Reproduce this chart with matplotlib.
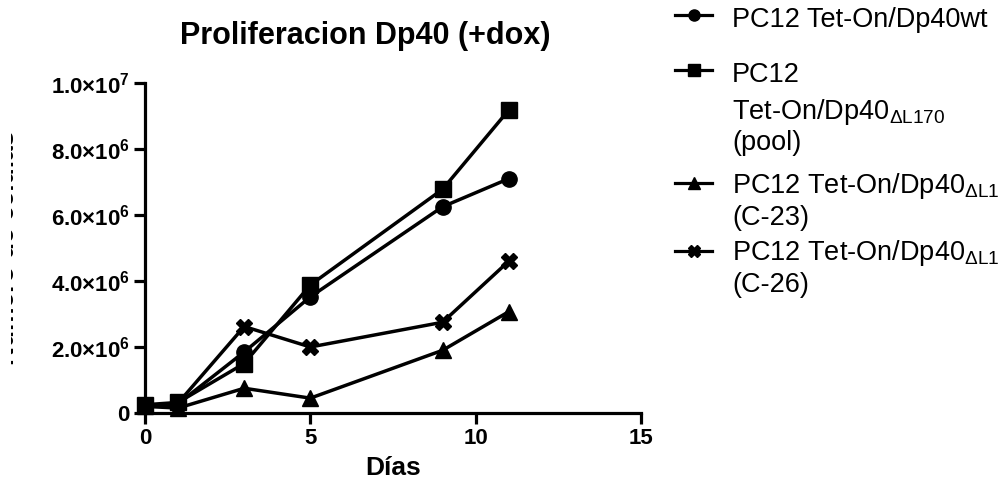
import matplotlib
matplotlib.use("Agg")
import matplotlib.pyplot as plt
from matplotlib.lines import Line2D
from matplotlib.transforms import Bbox

plt.rcParams['font.family'] = ['Liberation Sans', 'DejaVu Sans']
plt.rcParams['mathtext.fontset'] = 'custom'
plt.rcParams['mathtext.rm'] = 'Liberation Sans'
plt.rcParams['mathtext.bf'] = 'Liberation Sans:bold'
plt.rcParams['mathtext.it'] = 'Liberation Sans:italic'

# datos
dias = [0, 1, 3, 5, 9, 11]
wt = [0.22e6, 0.28e6, 1.85e6, 3.52e6, 6.25e6, 7.1e6]
pool = [0.25e6, 0.32e6, 1.5e6, 3.88e6, 6.78e6, 9.18e6]
c23 = [0.2e6, 0.15e6, 0.75e6, 0.45e6, 1.9e6, 3.07e6]
c26 = [0.2e6, 0.3e6, 2.62e6, 2.0e6, 2.75e6, 4.6e6]

series = [wt, pool, c23, c26]
marcadores = ['o', 's', '^', 'X']
# cada entrada de la leyenda, linea por linea
etiquetas = [
    ["PC12 Tet-On/Dp40wt"],
    ["PC12", "Tet-On/Dp40$_{\\mathrm{\u0394L170}}$", "(pool)"],
    ["PC12 Tet-On/Dp40$_{\\mathrm{\u0394L170}}$", "(C-23)"],
    ["PC12 Tet-On/Dp40$_{\\mathrm{\u0394L170}}$", "(C-26)"],
]
yticks = [0, 2e6, 4e6, 6e6, 8e6, 1e7]
yticklabels = ["0", r"$\mathbf{2.0{\times}10^{6}}$", r"$\mathbf{4.0{\times}10^{6}}$",
               r"$\mathbf{6.0{\times}10^{6}}$", r"$\mathbf{8.0{\times}10^{6}}$",
               r"$\mathbf{1.0{\times}10^{7}}$"]
xticks = [0, 5, 10, 15]

fig = plt.figure(figsize=(10, 4.94), dpi=100)
ax = fig.add_axes([0.145, (494 - 413) / 494, 0.496, 330 / 494])

for ys, m in zip(series, marcadores):
    ax.plot(dias, ys, color='black', lw=2.5, marker=m, ms=11, clip_on=False,
            zorder=3)

ax.set_xlim(0, 15)
ax.set_ylim(0, 1e7)
ax.set_xticks(xticks)
ax.set_yticks(yticks)
ax.set_yticklabels(yticklabels)
for s in ['top', 'right']:
    ax.spines[s].set_visible(False)
for s in ['left', 'bottom']:
    ax.spines[s].set_linewidth(2.3)
ax.tick_params(width=2.3, length=8, direction='out', labelsize=16, pad=3)
for lab in ax.get_xticklabels() + ax.get_yticklabels():
    lab.set_fontweight('bold')
ax.set_xlabel("Días", fontsize=19, fontweight='bold', labelpad=5)

fig.text(0.365, 1 - 44 / 494, "Proliferacion Dp40 (+dox)", fontsize=22,
         fontweight='bold', ha='center', va='baseline')

# etiqueta del eje y, casi toda fuera del recorte
ylab = fig.text(19 / 1000, 1 - 248 / 494, "Número de células", rotation=90,
                fontsize=19, fontweight='bold', ha='right', va='center')
ylab.set_clip_box(Bbox.from_extents(11, 0, 16, 494))
ylab.set_clip_on(True)

# leyenda a mano
ys_ley = [15, 70, 183, 251]
bases = [[27], [82, 119, 150], [193, 225], [260, 292]]
for y, bs, m, lineas in zip(ys_ley, bases, marcadores, etiquetas):
    yf = 1 - y / 494
    fig.add_artist(Line2D([675 / 1000, 712 / 1000], [yf, yf], color='black',
                          lw=2.3, transform=fig.transFigure))
    fig.add_artist(Line2D([693.5 / 1000], [yf], color='black', marker=m, ms=8,
                          transform=fig.transFigure))
    for b, txt in zip(bs, lineas):
        fig.text(732 / 1000, 1 - b / 494, txt, fontsize=19.5, ha='left',
                 va='baseline')

fig.savefig("out.png", dpi=100)
